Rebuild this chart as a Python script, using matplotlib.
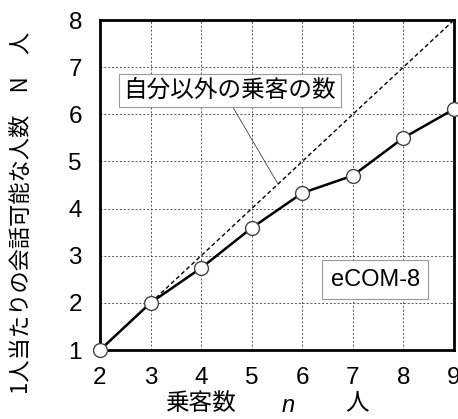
import matplotlib
matplotlib.use("Agg")
import matplotlib.pyplot as plt

plt.rcParams['font.family'] = ['Liberation Sans', 'Noto Sans CJK JP', 'DejaVu Sans']

n_vals = [2, 3, 4, 5, 6, 7, 8, 9]
N_vals = [1.0, 2.0, 2.74, 3.59, 4.33, 4.70, 5.50, 6.11]
diag_x = [2, 9]
diag_y = [1, 8]
xticks = [2, 3, 4, 5, 6, 7, 8, 9]
yticks = [1, 2, 3, 4, 5, 6, 7, 8]

fig = plt.figure(figsize=(4.58, 4.19), dpi=100)
ax = fig.add_axes([100/458, 1-350/419, 354/458, 330/419])
ax.set_xlim(2, 9)
ax.set_ylim(1, 8)
ax.set_xticks(xticks)
ax.set_yticks(yticks)
ax.grid(True, color='#555555', linestyle=(0, (2, 2)), linewidth=0.7)
ax.tick_params(axis='both', length=0, labelsize=17.5)
ax.tick_params(axis='y', pad=13)
ax.tick_params(axis='x', pad=12)
for s in ax.spines.values():
    s.set_linewidth(2)
    s.set_color('black')

ax.plot(diag_x, diag_y, color='black', linestyle=(0, (3, 2)), linewidth=1.0, zorder=3)
ax.plot(n_vals, N_vals, color='black', linewidth=1.8, marker='o', markersize=10,
        markerfacecolor='white', markeredgecolor='#444444', markeredgewidth=1.0,
        zorder=4, clip_on=False)

ax.annotate('自分以外の乗客の数', xy=(5.52, 4.52), xytext=(4.57, 6.5),
            fontsize=17, family=['Noto Sans CJK JP'], ha='center', va='center',
            bbox=dict(boxstyle='square,pad=0.2', fc='white', ec='#999999', lw=0.8),
            arrowprops=dict(arrowstyle='-', color='#444444', lw=0.6,
                            shrinkA=0, shrinkB=0, relpos=(0.5, 0.0)), zorder=5)
ax.text(7.44, 2.49, 'eCOM-8', fontsize=17, ha='center', va='center',
        bbox=dict(boxstyle='square,pad=0.35', fc='white', ec='#999999', lw=0.8), zorder=5)

fig.text(200/458, 1-403/419, '乗客数', fontsize=17, family=['Noto Sans CJK JP'],
         ha='center', va='center')
fig.text(288/458, 1-405/419, 'n', fontsize=17, style='italic', ha='center', va='center')
fig.text(357/458, 1-403/419, '人', fontsize=17, family=['Noto Sans CJK JP'],
         ha='center', va='center')
fig.text(22/458, 1-213/419, '1人当たりの会話可能な人数　N　人', fontsize=16,
         family=['Noto Sans CJK JP'], rotation=90, ha='center', va='center')

fig.savefig('out.png', dpi=100)
